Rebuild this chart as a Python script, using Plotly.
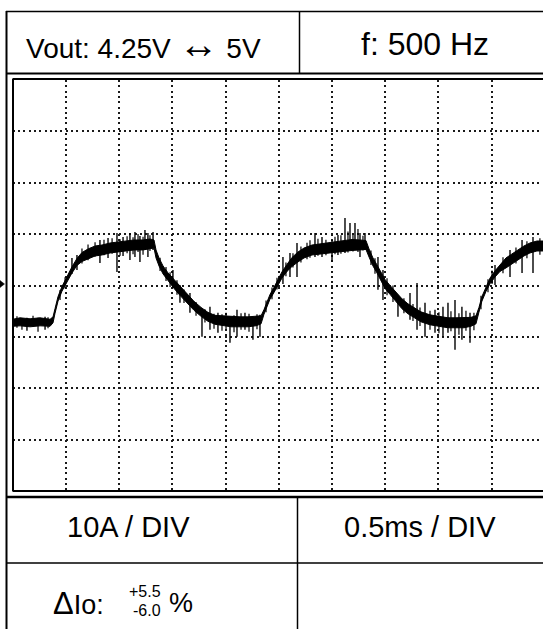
import plotly.graph_objects as go

W, H = 543, 629

# ---------------- data (time in ms, current in A relative to centre line) -------------
t_ms = [0.0, 0.069, 0.163, 0.257, 0.351, 0.379, 0.398, 0.426, 0.463, 0.510,
        0.557, 0.604, 0.651, 0.708, 0.774, 0.839, 0.915, 0.990, 1.065, 1.140,
        1.225, 1.290, 1.328, 1.347, 1.375, 1.413, 1.460, 1.516, 1.572, 1.638,
        1.704, 1.770, 1.835, 1.901, 1.976, 2.052, 2.136, 2.211, 2.287, 2.334,
        2.362, 2.390, 2.418, 2.456, 2.493, 2.531, 2.578, 2.625, 2.681, 2.738,
        2.813, 2.888, 2.963, 3.038, 3.114, 3.189, 3.264, 3.320, 3.349, 3.386,
        3.424, 3.461, 3.499, 3.546, 3.602, 3.659, 3.715, 3.771, 3.837, 3.922,
        4.016, 4.091, 4.166, 4.241, 4.307, 4.354, 4.382, 4.410, 4.448, 4.486,
        4.533, 4.580, 4.636, 4.692, 4.749, 4.805, 4.861, 4.927, 4.984]

i_upper = [-6.58, -6.29, -6.48, -6.29, -6.58, -6.10, -4.48, -2.15, -0.21, 1.83,
           3.63, 5.26, 6.42, 7.11, 7.69, 7.88, 8.27, 8.47, 8.66, 8.86,
           8.86, 9.05, 8.86, 6.92, 5.36, 3.81, 2.45, 1.18, -0.18, -1.73,
           -3.09, -4.26, -5.23, -5.81, -5.90, -6.10, -6.10, -6.10, -5.90, -5.90,
           -4.68, -3.12, -1.76, -0.35, 1.25, 2.66, 4.10, 5.45, 6.52, 7.30,
           7.88, 8.08, 8.27, 8.57, 8.76, 8.96, 8.86, 8.76, 7.11, 5.36,
           4.00, 2.45, 1.18, 0.02, -1.24, -2.60, -3.57, -4.35, -5.13, -5.71,
           -6.10, -6.29, -6.29, -6.29, -6.20, -5.90, -4.29, -2.15, -0.16, 1.44,
           2.85, 4.10, 5.36, 6.14, 6.91, 7.69, 8.27, 8.66, 8.66]

i_lower = [-7.94, -7.85, -8.04, -7.85, -7.94, -7.26, -5.38, -3.05, -1.11, 0.73,
           2.43, 3.90, 4.68, 5.17, 5.75, 5.94, 6.33, 6.53, 6.72, 6.92,
           6.92, 7.11, 7.30, 5.36, 3.80, 2.25, 0.89, -0.56, -1.92, -3.47,
           -4.83, -6.00, -6.97, -7.55, -7.84, -8.04, -8.04, -8.04, -7.84, -7.46,
           -5.58, -4.02, -2.66, -1.35, 0.15, 1.46, 2.74, 3.71, 4.58, 5.36,
           5.94, 6.14, 6.33, 6.43, 6.62, 6.82, 6.92, 7.02, 5.55, 3.80,
           2.44, 0.89, -0.56, -1.72, -3.18, -4.54, -5.51, -6.29, -7.07, -7.65,
           -8.04, -8.23, -8.23, -8.23, -7.94, -7.46, -5.19, -3.05, -1.16, 0.34,
           1.65, 2.74, 3.42, 4.20, 4.97, 5.75, 6.33, 6.72, 6.72]

# large noise spikes: time, top, bottom
spike_t = [0.134, 0.304, 0.557, 0.604, 0.820, 0.896, 0.980, 1.037, 1.102, 1.149,
           1.196, 1.243, 1.271, 1.319, 1.506, 1.572, 1.666, 1.779, 1.854, 1.929,
           2.042, 2.108, 2.183, 2.258, 2.324, 2.540, 2.606, 2.672, 2.841, 2.907,
           3.001, 3.057, 3.123, 3.170, 3.217, 3.264, 3.311, 3.433, 3.480, 3.621,
           3.734, 3.800, 3.875, 3.969, 4.044, 4.091, 4.157, 4.222, 4.298, 4.533,
           4.674, 4.787, 4.890]
spike_top = [-6.29, -6.10, 5.36, 5.94, 8.86, 9.25, 10.22, 9.44, 10.22, 10.41,
             9.63, 10.80, 10.22, 10.41, 3.03, 0.12, -1.44, -4.74, -4.16, -5.32,
             -6.10, -4.74, -5.32, -6.10, -5.71, 5.55, 6.33, 8.27, 10.22, 9.44,
             8.86, 9.83, 13.13, 12.16, 12.16, 10.22, 10.22, 5.55, 3.03, -2.21,
             -1.44, 0.51, -3.38, -4.74, -4.16, -3.38, -2.80, -4.16, -5.32, 4.00,
             6.91, 8.86, 9.44]
spike_bot = [-8.82, -8.62, 2.25, 3.03, 4.39, 5.36, 2.64, 5.75, 4.97, 5.55,
             4.58, 6.91, 5.55, 6.91, -0.47, -3.38, -5.32, -9.98, -8.62, -9.21,
             -11.15, -9.98, -8.62, -10.57, -9.98, 0.27, 1.67, 1.67, 5.55, 5.55,
             4.58, 5.94, 6.33, 6.91, 8.27, 5.55, 6.91, -0.85, -2.80, -6.10,
             -6.68, -8.62, -9.98, -9.21, -9.98, -9.21, -12.51, -10.57, -11.15, 0.12,
             1.67, 2.45, 2.45]

# small noise spikes (fuzz on the trace edges)
fuzz_t = [0.040, 0.087, 0.191, 0.238, 0.332, 0.445, 0.492, 0.651, 0.708, 0.774,
          0.858, 0.934, 1.009, 1.075, 1.131, 1.178, 1.225, 1.290, 1.385, 1.441,
          1.479, 1.544, 1.610, 1.723, 1.807, 1.892, 1.967, 2.005, 2.080, 2.146,
          2.221, 2.296, 2.381, 2.437, 2.484, 2.568, 2.634, 2.709, 2.766, 2.794,
          2.869, 2.944, 3.029, 3.085, 3.151, 3.198, 3.245, 3.292, 3.367, 3.405,
          3.518, 3.574, 3.677, 3.762, 3.828, 3.922, 4.006, 4.119, 4.194, 4.260,
          4.335, 4.401, 4.467, 4.505, 4.608, 4.730, 4.833, 4.955]
fuzz_top = [-6.0, -6.4, -5.9, -6.3, -6.2, -0.9, 1.6, 7.2, 8.0, 8.4,
            8.9, 9.2, 9.0, 9.6, 9.4, 10.0, 9.5, 9.8, 5.4, 3.6,
            2.6, 1.0, -0.8, -3.2, -4.6, -5.5, -5.6, -5.3, -5.8, -5.4,
            -5.5, -5.6, -2.9, -0.4, 1.5, 4.5, 6.3, 7.6, 8.3, 8.8,
            9.1, 8.9, 9.5, 9.8, 10.5, 9.9, 11.0, 9.7, 6.8, 5.3,
            1.4, 0.0, -2.5, -3.6, -4.3, -4.9, -5.2, -5.0, -5.4, -4.9,
            -5.3, -2.0, 1.2, 2.9, 5.5, 7.4, 8.6, 9.2]
fuzz_bot = [-8.2, -8.6, -8.0, -9.0, -8.3, -2.8, -0.6, 4.3, 4.9, 5.6,
            5.9, 6.2, 5.8, 6.3, 6.1, 6.5, 6.0, 6.7, 2.8, 0.9,
            -0.3, -1.8, -3.4, -5.9, -7.2, -8.4, -8.8, -8.5, -9.1, -8.6,
            -9.0, -8.5, -5.2, -2.7, -0.8, 1.8, 3.5, 4.5, 5.1, 5.4,
            5.8, 5.9, 6.1, 6.2, 6.4, 6.6, 6.5, 6.8, 4.0, 2.3,
            -1.9, -3.2, -5.4, -6.9, -7.9, -8.6, -9.3, -8.9, -9.6, -8.8,
            -8.7, -4.6, -1.3, 0.3, 2.4, 4.3, 5.3, 6.0]

header_left = 'Vout: 4.25V <span style="font-size:40px">↔</span> 5V'
header_right = "f: 500 Hz"
scale_left = "10A / DIV"
scale_right = "0.5ms / DIV"
delta_label = '<span style="font-size:31px">Δ</span>Io:'

# ---------------- helpers: pixel -> paper --------------------------------------------
def px(x):
    return x / W

def py(y):
    return 1 - y / H

FONT = "Liberation Sans, Arial, Helvetica, sans-serif"

fig = go.Figure()

# noise band
fig.add_trace(go.Scatter(x=t_ms, y=i_upper, mode="lines",
                         line=dict(color="black", width=1), hoverinfo="skip"))
fig.add_trace(go.Scatter(x=t_ms, y=i_lower, mode="lines", fill="tonexty",
                         fillcolor="black",
                         line=dict(color="black", width=1), hoverinfo="skip"))

def segs(ts, tops, bots):
    xs, ys = [], []
    for t, a, b in zip(ts, tops, bots):
        xs += [t, t, None]
        ys += [a, b, None]
    return xs, ys

sx, sy = segs(spike_t, spike_top, spike_bot)
fig.add_trace(go.Scatter(x=sx, y=sy, mode="lines",
                         line=dict(color="black", width=1.4), hoverinfo="skip"))
fx, fy = segs(fuzz_t, fuzz_top, fuzz_bot)
fig.add_trace(go.Scatter(x=fx, y=fy, mode="lines",
                         line=dict(color="black", width=1.2), hoverinfo="skip"))

x_left, x_right = 12.7, 543
y_top, y_bot = 80, 491
div_px = 53.2
x_range_max = (x_right - x_left) / div_px * 0.5

fig.update_layout(
    width=W, height=H,
    margin=dict(l=0, r=0, t=0, b=0, pad=0),
    paper_bgcolor="white", plot_bgcolor="white",
    showlegend=False,
    xaxis=dict(domain=[px(x_left), 1], range=[0, x_range_max], dtick=0.5, tick0=0,
               showgrid=True, gridcolor="#1a1a1a", gridwidth=1.5, griddash="2px,3.3px",
               zeroline=False, showticklabels=False, ticks="", showline=False,
               fixedrange=True),
    yaxis=dict(domain=[py(y_bot), py(y_top)], range=[-40, 40], dtick=10, tick0=0,
               showgrid=True, gridcolor="#1a1a1a", gridwidth=1.5, griddash="2px,3.3px",
               zeroline=False, showticklabels=False, ticks="", showline=False,
               fixedrange=True),
)

shapes = []

def hline(y, x0, x1, w):
    shapes.append(dict(type="line", xref="paper", yref="paper",
                       x0=px(x0), x1=px(x1), y0=py(y), y1=py(y),
                       line=dict(color="black", width=w)))

def vline(x, y0, y1, w):
    shapes.append(dict(type="line", xref="paper", yref="paper",
                       x0=px(x), x1=px(x), y0=py(y0), y1=py(y1),
                       line=dict(color="black", width=w)))

# outer frame / table lines
vline(6.5, 11, 629, 2)
hline(11.5, 6, 543, 1.5)
vline(299.5, 11, 74, 1.5)
hline(73.5, 6, 543, 2)
# screen frame
hline(79, 12.5, 543, 2)
vline(13, 79, 491, 2)
hline(491, 12.5, 543, 2)
# bottom table
hline(497, 6, 543, 2.5)
vline(297.5, 497, 629, 1.5)
hline(563, 6, 543, 1.5)

# reference marker arrow at left
shapes.append(dict(type="path", xref="paper", yref="paper",
                   path=f"M {px(0)},{py(280.5)} L {px(4.5)},{py(284)} L {px(0)},{py(287.5)} Z",
                   fillcolor="black", line=dict(color="black", width=0.5)))

fig.update_layout(shapes=shapes)

ann = []

def text(x, y, s, size, xanchor="center"):
    ann.append(dict(xref="paper", yref="paper", x=px(x), y=py(y), text=s,
                    showarrow=False, xanchor=xanchor, yanchor="middle",
                    font=dict(family=FONT, size=size, color="black")))

text(143, 44, header_left, 28)
text(425, 44, header_right, 32)
text(128, 527, scale_left, 29)
text(420, 527, scale_right, 29)
text(51, 603, delta_label, 27, xanchor="left")
text(145, 591, "+5.5", 16)
text(147, 610, "-6.0", 16)
text(167, 603, "%", 27, xanchor="left")

fig.update_layout(annotations=ann)

fig.write_html("out.html", post_script="document.body.style.margin='0';",
               config={"displayModeBar": False})
